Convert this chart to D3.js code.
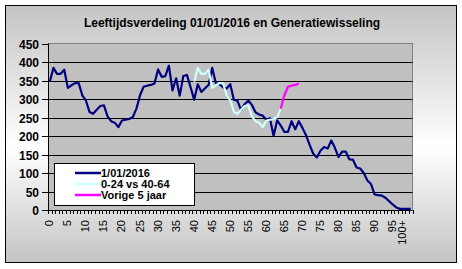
<!DOCTYPE html>
<html>
<head>
<meta charset="utf-8">
<script src="https://cdn.jsdelivr.net/npm/d3@7"></script>
<style>
body{margin:0;background:#fff}
svg{display:block}
text{font-family:Arial,"Liberation Sans",sans-serif;font-weight:bold;fill:#000}
</style>
</head>
<body>
<svg id="chart"></svg>
<script>
var title = "Leeftijdsverdeling 01/01/2016 en Generatiewisseling";
var categories = d3.range(0, 101).map(function(d){ return d === 100 ? "100+" : String(d); });
var tickLabels = ["0","5","10","15","20","25","30","35","40","45","50","55","60","65","70","75","80","85","90","95","100+"];
var yTicks = [0, 50, 100, 150, 200, 250, 300, 350, 400, 450];

// 1/01/2016, leeftijd 0 .. 100+
var values2016 = [347,384,368,368,379,330,337,343,343,310,
    296,265,260,271,281,283,253,240,236,224,
    242,244,246,251,274,310,333,336,338,342,
    380,360,362,390,323,356,309,362,365,332,
    298,340,319,329,338,384,343,340,332,328,
    340,298,295,270,286,296,284,264,258,255,
    244,248,200,242,228,211,211,240,218,240,
    222,202,176,152,142,160,170,166,188,168,
    143,158,158,137,136,115,112,100,80,70,
    42,40,39,33,24,15,7,3,3,3,3];
// 0-24 vs 40-64, leeftijd 40 .. 64
var generatieAges = categories.slice(40, 65);
var generatieValues = [347,384,368,368,379,330,337,343,343,310,
    296,265,260,271,281,283,253,240,236,224,
    242,244,246,251,274];
// Vorige 5 jaar, leeftijd 64 .. 69
var vorigeAges = categories.slice(64, 70);
var vorigeValues = [274,310,333,336,338,342];

var series = [
    {name: "1/01/2016", color: "#000080", ages: categories, values: values2016},
    {name: "0-24 vs 40-64", color: "#ccffff", ages: generatieAges, values: generatieValues},
    {name: "Vorige 5 jaar", color: "#ff00ff", ages: vorigeAges, values: vorigeValues}
];

var dims = {width: 462, height: 269, left: 48, right: 412.5, top: 43.5, bottom: 210};

renderChart();

function renderChart(){
    var svg = d3.select("#chart")
        .attr("width", dims.width)
        .attr("height", dims.height);

    var xScale = d3.scaleBand()
        .domain(categories)
        .range([dims.left, dims.right]);
    var yScale = d3.scaleLinear()
        .domain([0, 450])
        .range([dims.bottom, dims.top]);

    attachBackground(svg);
    attachPlotArea(svg, xScale, yScale);
    attachYAxis(svg, yScale);
    attachXAxis(svg, xScale);
    attachLines(svg, xScale, yScale);
    attachLegend(svg);

    svg.append("text")
        .attr("x", 232)
        .attr("y", 27)
        .attr("text-anchor", "middle")
        .style("font-size", "12px")
        .text(title);
}

function attachBackground(svg){
    var grad = svg.append("defs").append("linearGradient")
        .attr("id", "bg")
        .attr("x1", 0).attr("y1", 0).attr("x2", 0).attr("y2", 1);
    grad.append("stop").attr("offset", "0%").attr("stop-color", "#c4c4c4");
    grad.append("stop").attr("offset", "55%").attr("stop-color", "#ffffff");
    grad.append("stop").attr("offset", "100%").attr("stop-color", "#c4c4c4");

    svg.append("rect")
        .attr("x", 5.5).attr("y", 5.5)
        .attr("width", 451).attr("height", 257)
        .attr("fill", "url(#bg)")
        .attr("stroke", "#000");
}

function attachPlotArea(svg, xScale, yScale){
    svg.append("rect")
        .attr("x", dims.left).attr("y", dims.top)
        .attr("width", dims.right - dims.left)
        .attr("height", dims.bottom - dims.top)
        .attr("fill", "#c0c0c0")
        .attr("stroke", "#808080")
        .attr("shape-rendering", "crispEdges");

    svg.append("g")
        .selectAll("line")
        .data(yTicks.filter(function(d){ return d > 0 && d < 450; }))
        .enter()
        .append("line")
        .attr("x1", dims.left).attr("x2", dims.right)
        .attr("y1", function(d){ return Math.round(yScale(d)) + 0.5; })
        .attr("y2", function(d){ return Math.round(yScale(d)) + 0.5; })
        .attr("stroke", "#000");
}

function attachYAxis(svg, yScale){
    var g = svg.append("g");
    g.append("line")
        .attr("x1", dims.left + 0.5).attr("x2", dims.left + 0.5)
        .attr("y1", dims.top).attr("y2", dims.bottom + 0.5)
        .attr("stroke", "#000");
    var tick = g.selectAll("g")
        .data(yTicks)
        .enter()
        .append("g")
        .attr("transform", function(d){ return `translate(0, ${Math.round(yScale(d)) + 0.5})`; });
    tick.append("line")
        .attr("x1", dims.left - 6).attr("x2", dims.left)
        .attr("stroke", "#000");
    tick.append("text")
        .attr("x", dims.left - 9)
        .attr("dy", "0.36em")
        .attr("text-anchor", "end")
        .style("font-size", "12px")
        .text(function(d){ return d; });
}

function attachXAxis(svg, xScale){
    var g = svg.append("g");
    var bw = xScale.bandwidth();
    g.append("line")
        .attr("x1", dims.left).attr("x2", dims.right)
        .attr("y1", dims.bottom + 0.5).attr("y2", dims.bottom + 0.5)
        .attr("stroke", "#000");
    g.selectAll("line.tick")
        .data(categories.concat([null]))
        .enter()
        .append("line")
        .attr("class", "tick")
        .attr("x1", function(d, i){ return Math.round(dims.left + i * bw) + 0.5; })
        .attr("x2", function(d, i){ return Math.round(dims.left + i * bw) + 0.5; })
        .attr("y1", dims.bottom).attr("y2", dims.bottom + 4)
        .attr("stroke", "#000");
    g.selectAll("text")
        .data(tickLabels)
        .enter()
        .append("text")
        .attr("transform", function(d){
            var x = xScale(d) + bw / 2 + 3.5 + (d === "100+" ? -8 : 0);
            return `translate(${x}, ${dims.bottom + 10}) rotate(-90)`;
        })
        .attr("text-anchor", "end")
        .style("font-size", "11px")
        .style("font-weight", "normal")
        .text(function(d){ return d; });
}

function attachLines(svg, xScale, yScale){
    var bw = xScale.bandwidth();
    var line = d3.line()
        .x(function(d){ return xScale(d.age) + bw / 2; })
        .y(function(d){ return yScale(d.value); });
    svg.append("g")
        .selectAll("path")
        .data(series)
        .enter()
        .append("path")
        .attr("d", function(s){
            return line(s.ages.map(function(a, i){ return {age: a, value: s.values[i]}; }));
        })
        .attr("fill", "none")
        .attr("stroke", function(s){ return s.color; })
        .attr("stroke-width", 2.2)
        .attr("stroke-linejoin", "round");
}

function attachLegend(svg){
    var legend = svg.append("g");
    legend.append("rect")
        .attr("x", 54.5).attr("y", 163.5)
        .attr("width", 140).attr("height", 42)
        .attr("fill", "#fff")
        .attr("stroke", "#000");
    var item = legend.selectAll("g")
        .data(series)
        .enter()
        .append("g")
        .attr("transform", function(d, i){ return `translate(0, ${173 + i * 11})`; });
    item.append("line")
        .attr("x1", 75).attr("x2", 101)
        .attr("stroke", function(d){ return d.color; })
        .attr("stroke-width", 2.5);
    item.append("text")
        .attr("x", 101)
        .attr("dy", "0.36em")
        .style("font-size", "11px")
        .text(function(d){ return d.name; });
}
</script>
</body>
</html>
